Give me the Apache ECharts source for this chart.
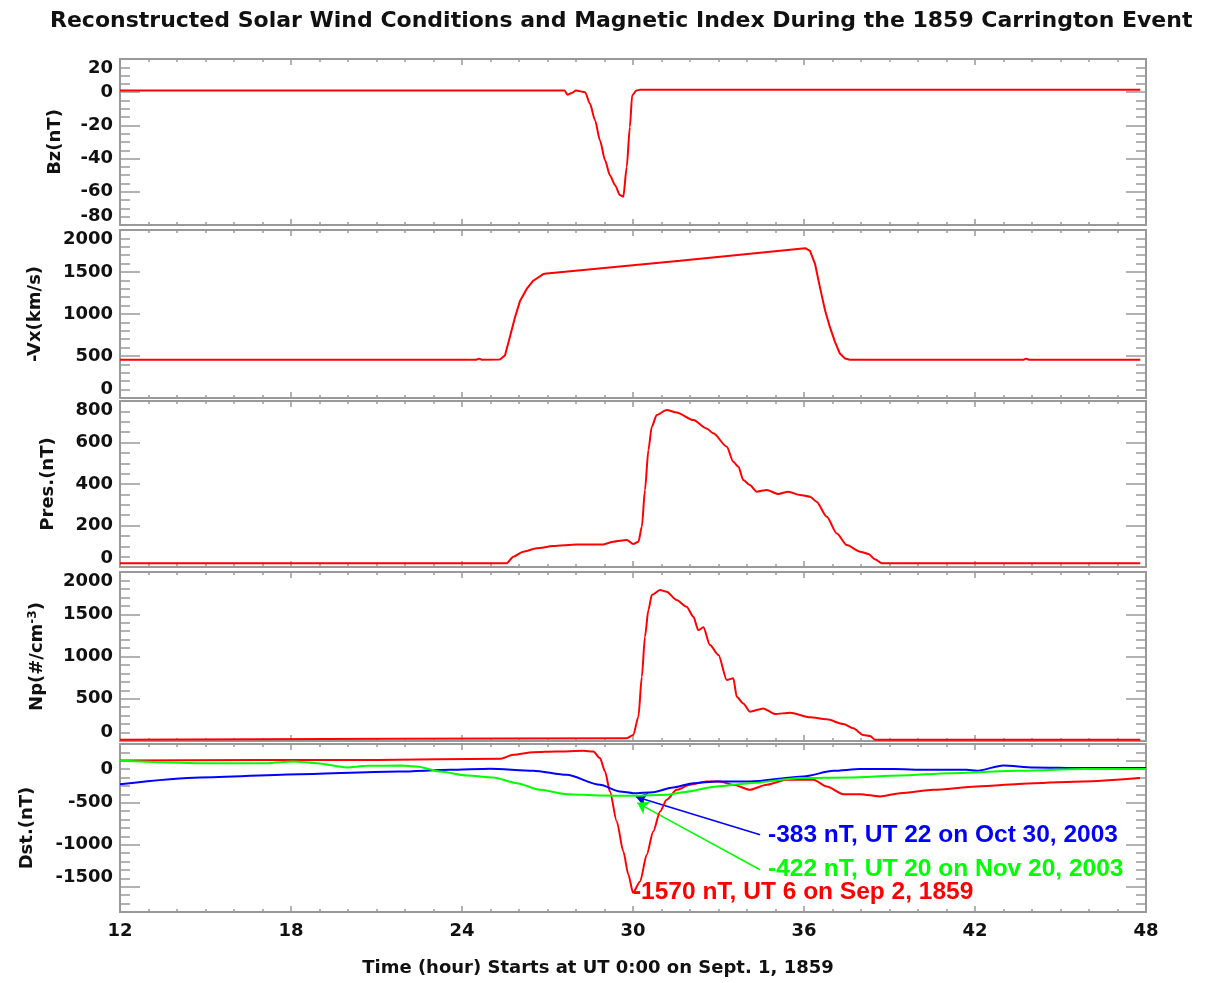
<!DOCTYPE html>
<html><head><meta charset="utf-8">
<script src="https://cdn.jsdelivr.net/npm/echarts@6/dist/echarts.min.js"></script>
<style>html,body{margin:0;padding:0;background:#fff}#c{width:1207px;height:983px}</style>
</head><body><div id="c"></div>
<script>
// ---------------- DATA ----------------
const titleText = 'Reconstructed Solar Wind Conditions and Magnetic Index During the 1859 Carrington Event';
const xName = 'Time (hour) Starts at UT 0:00 on Sept. 1, 1859';
const xTicks = [12, 18, 24, 30, 36, 42, 48];

const bzTicks = [-80, -60, -40, -20, 0, 20];
const vxTicks = [0, 500, 1000, 1500, 2000];
const prTicks = [0, 200, 400, 600, 800];
const npTicks = [0, 500, 1000, 1500, 2000];
const dstTicks = [-1500, -1000, -500, 0];

const bzT = [12, 27.6, 27.7, 27.85, 28.0, 28.32, 28.49, 28.67, 28.84, 29.02, 29.19, 29.37, 29.54, 29.66, 29.78, 29.89, 29.97, 30.12, 30.25, 47.8];
const bzV = [1, 1, -1.5, -0.5, 1, 0, -7, -17, -29, -41, -50, -56, -62, -63, -45, -21, -2, 1, 1.5, 1.5];

const vxT = [12, 24.5, 24.6, 24.7, 25.33, 25.51, 25.68, 25.86, 26.04, 26.27, 26.5, 26.85, 26.97, 31.65, 36.04, 36.21, 36.39, 36.56, 36.74, 36.91, 37.09, 37.26, 37.44, 37.61, 43.7, 43.8, 43.9, 47.8];
const vxV = [455, 455, 468, 455, 458, 509, 725, 962, 1159, 1298, 1396, 1475, 1482, 1633, 1783, 1751, 1593, 1317, 1041, 843, 666, 529, 470, 455, 455, 468, 455, 455];

const prT = [12, 25.57, 25.8, 26.15, 26.62, 27.2, 28.02, 28.96, 29.31, 29.78, 30.01, 30.19, 30.31, 30.42, 30.54, 30.66, 30.83, 31.18, 31.53, 32.12, 32.58, 32.82, 33.29, 33.52, 33.7, 33.87, 34.1, 34.34, 34.69, 35.1, 35.45, 35.86, 36.21, 36.44, 36.8, 37.15, 37.5, 37.97, 38.26, 38.49, 38.73, 47.8];
const prV = [18, 18, 50, 74, 90, 101, 109, 109, 122, 130, 111, 122, 194, 371, 564, 676, 732, 757, 744, 708, 668, 644, 580, 507, 483, 419, 395, 363, 371, 352, 363, 347, 339, 315, 242, 162, 106, 74, 63, 37, 18, 18];

const npT = [12, 29.78, 30.01, 30.19, 30.31, 30.42, 30.54, 30.66, 30.95, 31.18, 31.53, 31.88, 32.12, 32.29, 32.47, 32.7, 33.0, 33.29, 33.52, 33.64, 33.87, 34.1, 34.57, 34.98, 35.51, 36.21, 36.8, 37.38, 37.73, 38.08, 38.32, 38.49, 47.8];
const npV = [15, 32, 71, 288, 761, 1234, 1550, 1727, 1786, 1766, 1668, 1589, 1470, 1313, 1345, 1136, 1017, 722, 742, 524, 445, 347, 386, 319, 335, 280, 256, 201, 150, 71, 59, 15, 15];

const dst1859T = [12, 21.0, 25.33, 25.8, 26.5, 27.32, 28.26, 28.61, 28.84, 29.02, 29.19, 29.43, 29.66, 29.84, 30.0, 30.25, 30.48, 30.71, 30.95, 31.18, 31.53, 32.0, 32.58, 33.05, 33.52, 34.1, 34.69, 35.39, 36.33, 36.8, 37.38, 37.97, 38.67, 39.37, 40.54, 42.06, 44.05, 45.8, 47.79];
const dst1859V = [5, 10, 24, 71, 103, 111, 119, 111, 32, -127, -365, -722, -1079, -1357, -1570, -1436, -1119, -841, -603, -464, -345, -286, -246, -246, -286, -345, -286, -226, -226, -306, -397, -397, -425, -385, -345, -306, -266, -246, -206];

const dstOctT = [12, 14.81, 18.32, 21.82, 23.58, 24.98, 26.5, 27.67, 28.84, 29.54, 30.01, 30.71, 31.41, 32.12, 32.94, 34.1, 35.98, 37.03, 37.97, 39.14, 40.3, 41.71, 42.06, 42.99, 44.05, 45.8, 48];
const dstOctV = [-278, -198, -159, -127, -107, -95, -119, -167, -286, -365, -385, -373, -317, -266, -246, -246, -186, -119, -99, -99, -107, -107, -119, -56, -79, -87, -87];

const dstNovT = [12, 14.81, 17.15, 18.08, 18.9, 19.95, 20.65, 21.82, 22.41, 23.23, 24.16, 25.1, 25.92, 26.74, 27.67, 28.84, 30.01, 31.18, 31.77, 32.94, 34.1, 35.86, 37.61, 39.37, 41.12, 43.46, 45.8, 48];
const dstNovV = [0, -28, -28, -8, -28, -79, -60, -56, -67, -127, -175, -198, -266, -345, -397, -413, -417, -405, -373, -306, -266, -206, -198, -175, -147, -119, -99, -99];

const annLabels = ['-383 nT, UT 22 on Oct 30, 2003', '-422 nT, UT 20 on Nov 20, 2003', '-1570 nT, UT 6 on Sep 2, 1859'];
const annAt = [[34.72, -885], [34.72, -1290], [29.98, -1570]];
const arrowFrom = [[34.46, -881], [34.46, -1297]];
const arrowTo = [[30.1, -428], [30.15, -500]];

// ---------------- CHART ----------------
const zip = (t, v) => t.map((x, i) => [x, v[i]]);
const FONT = 'DejaVu Sans';
const AFONT = 'Liberation Sans';
const GRAY = '#999';
const RED = '#ff0000', BLUE = '#0000ff', GREEN = '#00ff00';
const plain = v => String(v);

const panels = [
  { top: 59, height: 166, min: -80, max: 20, minor: 5, ticks: bzTicks, name: 'Bz(nT)', gap: 56 },
  { top: 230, height: 168, min: 0, max: 2000, minor: 100, ticks: vxTicks, name: '-Vx(km/s)', gap: 76 },
  { top: 401, height: 166, min: 0, max: 800, minor: 50, ticks: prTicks, name: 'Pres.(nT)', gap: 63 },
  { top: 572, height: 169, min: 0, max: 2000, minor: 100, ticks: npTicks, name: 'Np(#/cm{sup|-3})', gap: 73 },
  { top: 744, height: 168, min: -1800, max: 200, minor: 100, ticks: dstTicks, name: 'Dst.(nT)', gap: 84 }
];

const grid = [], xAxis = [], yAxis = [];
const tickLine = { color: GRAY, width: 1.5 };
const noLine = { show: false, onZero: false };
panels.forEach((p, i) => {
  grid.push({ left: 120, width: 1026, top: p.top, height: p.height, show: true, borderColor: GRAY, borderWidth: 2 });
  const xb = { gridIndex: i, type: 'value', min: 12, max: 48, axisLine: noLine, splitLine: { show: false } };
  xAxis.push(Object.assign({}, xb, {
    position: 'bottom', interval: 1,
    axisTick: { inside: true, length: 3, lineStyle: tickLine },
    axisLabel: i === 4 ? { show: true, customValues: xTicks, formatter: plain, margin: 10, fontFamily: FONT, fontWeight: 'bold', fontSize: 18, color: '#111' } : { show: false },
    name: i === 4 ? xName : '', nameLocation: 'middle', nameGap: 47,
    nameTextStyle: { fontFamily: FONT, fontWeight: 'bold', fontSize: 18, color: '#111', padding: [0, 70, 0, 0] }
  }));
  xAxis.push(Object.assign({}, xb, { position: 'bottom', axisTick: { inside: true, length: 6, customValues: xTicks, lineStyle: tickLine }, axisLabel: { show: false } }));
  xAxis.push(Object.assign({}, xb, { position: 'top', interval: 1, axisTick: { inside: true, length: 3, lineStyle: tickLine }, axisLabel: { show: false } }));
  xAxis.push(Object.assign({}, xb, { position: 'top', axisTick: { inside: true, length: 6, customValues: xTicks, lineStyle: tickLine }, axisLabel: { show: false } }));

  const yb = { gridIndex: i, type: 'value', min: p.min, max: p.max, axisLine: noLine, splitLine: { show: false } };
  yAxis.push(Object.assign({}, yb, {
    position: 'left', interval: p.minor,
    axisTick: { inside: true, length: 10, lineStyle: tickLine },
    axisLabel: { show: true, customValues: p.ticks, formatter: plain, margin: 7, fontFamily: FONT, fontWeight: 'bold', fontSize: 18, color: '#111', verticalAlignMaxLabel: 'top', verticalAlignMinLabel: 'bottom' },
    name: p.name, nameLocation: 'middle', nameRotate: 90, nameGap: p.gap,
    nameTextStyle: { fontFamily: FONT, fontWeight: 'bold', fontSize: 18, color: '#111',
      rich: { sup: { fontFamily: FONT, fontWeight: 'bold', fontSize: 12, color: '#111', verticalAlign: 'top', padding: [0, 0, 8, 0] } } }
  }));
  yAxis.push(Object.assign({}, yb, { position: 'left', axisTick: { inside: true, length: 20, customValues: p.ticks, lineStyle: tickLine }, axisLabel: { show: false } }));
  yAxis.push(Object.assign({}, yb, { position: 'right', interval: p.minor, axisTick: { inside: true, length: 10, lineStyle: tickLine }, axisLabel: { show: false } }));
  yAxis.push(Object.assign({}, yb, { position: 'right', axisTick: { inside: true, length: 20, customValues: p.ticks, lineStyle: tickLine }, axisLabel: { show: false } }));
});

function line(i, data, color, extra) {
  return Object.assign({
    type: 'line', xAxisIndex: 4 * i, yAxisIndex: 4 * i, data: data, showSymbol: false, symbol: 'none',
    smooth: 0.25, smoothMonotone: 'x',
    lineStyle: { color: color, width: 2 }, itemStyle: { color: color }, animation: false, silent: true, z: 5
  }, extra || {});
}
function annPoint(k, color) {
  return {
    symbol: 'circle', symbolSize: 1, itemStyle: { color: 'rgba(0,0,0,0)' }, silent: true, animation: false,
    label: { show: true, position: 'right', distance: 0, formatter: annLabels[k], color: color, fontFamily: AFONT, fontWeight: 'bold', fontSize: 24.5 },
    data: [{ coord: annAt[k] }]
  };
}
function annArrow(k, color) {
  return {
    silent: true, animation: false, symbol: ['none', 'arrow'], symbolSize: 11,
    lineStyle: { color: color, width: 1.5, type: 'solid' }, label: { show: false },
    data: [[{ coord: arrowFrom[k] }, { coord: arrowTo[k] }]]
  };
}

const series = [
  line(0, zip(bzT, bzV), RED),
  line(1, zip(vxT, vxV), RED, { smooth: false }),
  line(2, zip(prT, prV), RED),
  line(3, zip(npT, npV), RED),
  line(4, zip(dst1859T, dst1859V), RED, { markPoint: annPoint(2, RED) }),
  line(4, zip(dstOctT, dstOctV), BLUE, { markPoint: annPoint(0, BLUE), markLine: annArrow(0, BLUE) }),
  line(4, zip(dstNovT, dstNovV), GREEN, { markPoint: annPoint(1, GREEN), markLine: annArrow(1, GREEN) })
];

const chart = echarts.init(document.getElementById('c'));
chart.setOption({
  backgroundColor: '#fff',
  animation: false,
  title: { text: titleText, left: 45, top: 5, textStyle: { fontFamily: FONT, fontWeight: 'bold', fontSize: 22, color: '#111' } },
  grid: grid, xAxis: xAxis, yAxis: yAxis, series: series
});
</script></body></html>
